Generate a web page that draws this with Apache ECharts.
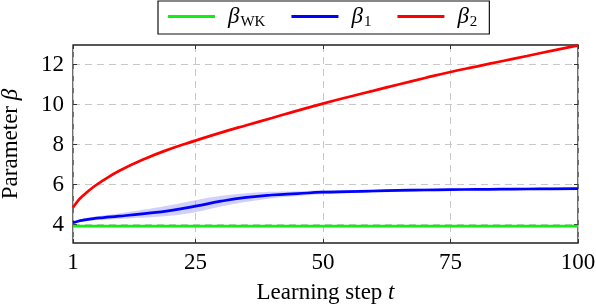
<!DOCTYPE html>
<html><head><meta charset="utf-8">
<script src="https://cdn.jsdelivr.net/npm/echarts@6/dist/echarts.min.js"></script>
<style>html,body{margin:0;padding:0;background:#fff}#c{width:596px;height:304px}</style>
</head><body><div id="c"></div>
<script>
const xTicks = [1, 25, 50, 75, 100];
const yTicks = [4, 6, 8, 10, 12];
const tSteps = [1, 2, 3, 5, 7, 10, 15, 20, 25, 30, 35, 40, 45, 50, 55, 60, 65, 70, 75, 80, 85, 90, 95, 100];
const betaWK = [3.92, 3.92, 3.92, 3.92, 3.92, 3.92, 3.92, 3.92, 3.92, 3.92, 3.92, 3.92, 3.92, 3.92, 3.92, 3.92, 3.92, 3.92, 3.92, 3.92, 3.92, 3.92, 3.92, 3.92];
const beta1 = [4.1, 4.17, 4.22, 4.3, 4.35, 4.42, 4.55, 4.7, 4.92, 5.17, 5.36, 5.48, 5.55, 5.62, 5.65, 5.68, 5.71, 5.73, 5.75, 5.76, 5.77, 5.78, 5.79, 5.8];
const beta1Lo = [4.07, 4.12, 4.15, 4.21, 4.24, 4.28, 4.35, 4.44, 4.62, 4.9, 5.14, 5.32, 5.43, 5.52, 5.57, 5.6, 5.64, 5.66, 5.69, 5.7, 5.71, 5.72, 5.73, 5.74];
const beta1Hi = [4.13, 4.22, 4.29, 4.39, 4.46, 4.56, 4.75, 4.97, 5.22, 5.44, 5.57, 5.64, 5.67, 5.72, 5.73, 5.76, 5.78, 5.8, 5.81, 5.82, 5.83, 5.84, 5.85, 5.86];
const beta2 = [4.85, 5.2, 5.45, 5.88, 6.22, 6.68, 7.28, 7.78, 8.2, 8.6, 8.97, 9.33, 9.7, 10.05, 10.38, 10.7, 11.02, 11.33, 11.63, 11.9, 12.17, 12.43, 12.7, 12.96];

const pairs = (ys) => tSteps.map((t, i) => [t, ys[i]]);
const FONT = 'Liberation Serif';
const FS = 23;
const chart = echarts.init(document.getElementById('c'), null, {renderer: 'canvas'});
const tickStyle = {show: true, inside: true, length: 4, lineStyle: {color: '#333', width: 1}};
const gridLine = {show: true, lineStyle: {color: '#c8c8c8', type: [7, 5], width: 1}};
const bandData = tSteps.map((t, i) => [t, beta1Lo[i], beta1Hi[i]]);
chart.setOption({
  animation: false,
  backgroundColor: '#fff',
  grid: {left: 73, right: 18, top: 45, bottom: 61, containLabel: false, outerBoundsMode: 'none', show: true, borderColor: '#222', borderWidth: 1.3, backgroundColor: 'transparent'},
  legend: {
    top: 1, left: 158,
    borderColor: '#111', borderWidth: 1.2, padding: [4, 12, 4, 10],
    itemWidth: 47, itemHeight: 3, itemGap: 26,
    textStyle: {fontFamily: FONT, fontSize: FS, color: '#000', padding: [0, 0, 0, 8],
      rich: {b: {fontFamily: FONT, fontStyle: 'italic', fontSize: FS, color: '#000'},
             s: {fontFamily: FONT, fontSize: 15, color: '#000', padding: [12, 0, 0, 1]}}},
    formatter: (n) => n === 'WK' ? '{b|β}{s|WK}' : (n === 'b1' ? '{b|β}{s|1}' : '{b|β}{s|2}'),
    data: [{name: 'WK', icon: 'rect'}, {name: 'b1', icon: 'rect'}, {name: 'b2', icon: 'rect'}]
  },
  xAxis: [{
    type: 'value', min: 1, max: 100,
    axisLine: {show: false}, axisTick: Object.assign({customValues: xTicks}, tickStyle),
    axisLabel: {customValues: xTicks, fontFamily: FONT, fontSize: FS, color: '#000', margin: 8},
    splitLine: gridLine,
    name: '{n|Learning step }{i|t}', nameLocation: 'middle', nameGap: 38,
    nameTextStyle: {rich: {n: {fontFamily: FONT, fontSize: FS, color: '#000'}, i: {fontFamily: FONT, fontStyle: 'italic', fontSize: FS, color: '#000'}}}
  }, {
    type: 'value', min: 1, max: 100, position: 'top',
    axisLine: {show: false}, axisTick: Object.assign({customValues: xTicks}, tickStyle),
    axisLabel: {show: false}, splitLine: {show: false}
  }],
  yAxis: [{
    type: 'value', min: 3.08, max: 12.98,
    axisLine: {show: false}, axisTick: Object.assign({customValues: yTicks}, tickStyle),
    axisLabel: {customValues: yTicks, fontFamily: FONT, fontSize: FS, color: '#000', margin: 9},
    splitLine: gridLine,
    name: '{n|Parameter }{i|β}', nameLocation: 'middle', nameGap: 51, nameRotate: 90,
    nameTextStyle: {rich: {n: {fontFamily: FONT, fontSize: FS, color: '#000'}, i: {fontFamily: FONT, fontStyle: 'italic', fontSize: FS, color: '#000'}}}
  }, {
    type: 'value', min: 3.08, max: 12.98, position: 'right',
    axisLine: {show: false}, axisTick: Object.assign({customValues: yTicks}, tickStyle),
    axisLabel: {show: false}, splitLine: {show: false}
  }],
  series: [
    {name: 'band', type: 'custom', data: bandData, encode: {x: 0, y: [1, 2]}, silent: true, z: 1,
     renderItem: (params, api) => {
       if (params.dataIndex !== 0) return null;
       const upper = bandData.map(d => api.coord([d[0], d[2]]));
       const lower = bandData.map(d => api.coord([d[0], d[1]])).reverse();
       return {type: 'polygon', shape: {points: upper.concat(lower), smooth: 0.25},
               style: {fill: 'rgba(120,120,238,0.35)', stroke: null}};
     }},
    {name: 'WK', type: 'line', data: pairs(betaWK), symbol: 'none', color: '#11ee11', lineStyle: {width: 2.8, color: '#11ee11'}, z: 3},
    {name: 'b1', type: 'line', data: pairs(beta1), smooth: true, symbol: 'none', color: '#0000ff', lineStyle: {width: 2.7, color: '#0000ff'}, z: 3},
    {name: 'b2', type: 'line', data: pairs(beta2), smooth: true, symbol: 'none', color: '#ff0000', lineStyle: {width: 2.7, color: '#ff0000'}, z: 3}
  ]
});
</script></body></html>
